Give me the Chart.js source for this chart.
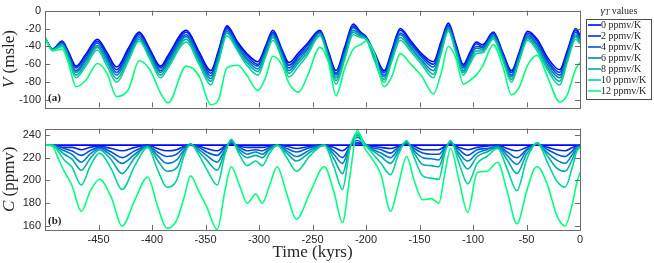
<!DOCTYPE html>
<html>
<head>
<meta charset="utf-8">
<script src="https://cdn.jsdelivr.net/npm/chart.js@4.4.1/dist/chart.umd.min.js"></script>
<style>
  body { margin: 0; background: #fff; }
  #wrap { position: relative; width: 654px; height: 263px; }
  canvas { position: absolute; left: 0; }
</style>
</head>
<body>
<div id="wrap">
  <canvas id="topChart" width="654" height="118" style="top:0"></canvas>
  <canvas id="bottomChart" width="654" height="145" style="top:118px"></canvas>
</div>
<script>
// legend entries (gamma_T values)
const gammaLabels = ['0 ppmv/K', '2 ppmv/K', '4 ppmv/K', '6 ppmv/K', '8 ppmv/K', '10 ppmv/K', '12 ppmv/K'];
const colours = ['#0000ff', '#002bea', '#0055d5', '#0080bf', '#00aaaa', '#00d595', '#00ff80'];

// tick labels
const xTicks = [-450, -400, -350, -300, -250, -200, -150, -100, -50, 0];
const vTicks = [-100, -80, -60, -40, -20, 0];
const cTicks = [160, 180, 200, 220, 240];

// panel (a): sea level V (msle)
const timeV = [-500, -493, -484, -478, -471, -462, -451, -442, -433, -422,
  -412, -402, -392, -385, -368, -356, -345, -338, -330, -320,
  -312, -301, -294, -287, -278, -272, -263, -255, -243, -235,
  -228, -220, -212, -205, -200, -192, -183, -176, -168, -158,
  -148, -137, -130, -123, -116, -109, -103, -97, -91, -81,
  -72, -64, -57, -49, -40, -30, -19, -12, -4, 0];
const vGamma0 = [-30, -43, -34, -46, -62, -49, -32, -47, -63, -42,
  -24, -43, -62, -50, -22, -46, -67, -45, -17, -35,
  -47, -57, -40, -22, -45, -58, -47, -37, -22, -46,
  -67, -41, -15, -24, -29, -47, -67, -45, -20, -34,
  -48, -57, -35, -14, -37, -60, -47, -35, -38, -24,
  -47, -67, -47, -23, -32, -53, -66, -45, -20, -27];
const vGamma2 = [-30, -43, -35, -48, -64, -51, -34, -50, -66, -45,
  -26, -45, -64, -53, -24, -49, -70, -47, -19, -37,
  -49, -60, -42, -24, -47, -61, -50, -39, -23, -48,
  -70, -44, -17, -25, -30, -49, -69, -47, -22, -36,
  -50, -60, -38, -16, -39, -62, -49, -37, -40, -25,
  -49, -69, -49, -25, -34, -56, -69, -47, -22, -29];
const vGamma4 = [-30, -43, -36, -49, -67, -54, -36, -52, -69, -47,
  -28, -47, -67, -55, -27, -51, -73, -50, -21, -39,
  -52, -62, -44, -26, -49, -64, -52, -42, -24, -49,
  -72, -46, -19, -26, -30, -50, -72, -49, -25, -38,
  -52, -63, -40, -17, -41, -64, -52, -40, -41, -27,
  -50, -72, -51, -27, -37, -58, -72, -50, -24, -31];
const vGamma6 = [-30, -44, -37, -51, -69, -56, -39, -55, -72, -50,
  -30, -49, -69, -58, -29, -54, -76, -52, -23, -41,
  -54, -65, -47, -28, -51, -67, -55, -44, -25, -51,
  -75, -49, -22, -27, -31, -52, -74, -52, -27, -41,
  -55, -67, -43, -19, -43, -67, -54, -42, -43, -28,
  -52, -74, -53, -29, -39, -61, -75, -52, -27, -33];
const vGamma8 = [-30, -44, -38, -53, -72, -59, -41, -58, -76, -53,
  -32, -51, -72, -61, -32, -57, -79, -55, -25, -43,
  -57, -68, -49, -30, -53, -70, -58, -47, -27, -53,
  -78, -52, -24, -29, -31, -54, -77, -54, -30, -43,
  -57, -71, -46, -21, -45, -69, -57, -45, -45, -30,
  -54, -77, -55, -31, -42, -64, -79, -55, -29, -35];
const vGamma10 = [-30, -44, -40, -55, -75, -62, -44, -62, -80, -56,
  -34, -54, -75, -64, -35, -60, -83, -58, -28, -45,
  -60, -72, -52, -33, -56, -74, -62, -50, -28, -55,
  -82, -55, -27, -30, -32, -56, -80, -57, -33, -46,
  -60, -75, -49, -23, -47, -72, -60, -48, -47, -32,
  -56, -80, -57, -33, -45, -67, -83, -58, -32, -37];
const vGamma12 = [-30, -45, -43, -59, -85, -78, -59, -70, -96, -88,
  -56, -66, -92, -103, -62, -73, -105, -100, -64, -61,
  -71, -89, -75, -51, -62, -81, -91, -74, -41, -58,
  -95, -65, -43, -38, -34, -48, -85, -74, -48, -60,
  -73, -93, -71, -40, -53, -82, -78, -72, -62, -38,
  -63, -94, -86, -61, -50, -75, -102, -94, -65, -58];

// panel (b): CO2 C (ppmv)
const timeC = [-500, -493, -488, -482, -475, -466, -458, -449, -438, -428,
  -416, -404, -395, -386, -377, -370, -364, -356, -349, -339,
  -332, -326, -318, -311, -303, -297, -290, -283, -274, -265,
  -252, -239, -230, -222, -215, -208, -201, -195, -186, -177,
  -170, -162, -155, -147, -139, -132, -126, -121, -113, -105,
  -96, -87, -77, -68, -59, -50, -43, -40, -30, -22,
  -14, -7, -3, 0];
const cGamma0 = [231, 231, 231, 231, 231, 231, 231, 231, 231, 231,
  231, 231, 231, 231, 231, 231, 231, 231, 231, 231,
  231, 231, 231, 231, 231, 231, 231, 231, 231, 231,
  231, 231, 231, 231, 231, 231, 231, 231, 231, 231,
  231, 231, 231, 231, 231, 231, 231, 231, 231, 231,
  231, 231, 231, 231, 231, 231, 231, 231, 231, 231,
  231, 231, 231, 231];
const cGamma2 = [231, 231, 230, 229, 229, 227, 229, 230, 228, 226,
  229, 231, 228, 226, 227, 230, 231, 230, 228, 226,
  230, 232, 230, 229, 229, 229, 230, 231, 230, 228,
  230, 231, 229, 226, 231, 233, 231, 230, 229, 228,
  230, 232, 230, 227, 227, 227, 230, 232, 229, 227,
  229, 230, 231, 228, 226, 229, 231, 231, 229, 227,
  226, 229, 230, 231];
const cGamma4 = [231, 231, 230, 228, 226, 222, 226, 229, 225, 220,
  226, 230, 225, 221, 223, 229, 231, 229, 225, 222,
  229, 233, 229, 226, 227, 226, 229, 231, 228, 225,
  229, 231, 226, 220, 230, 235, 231, 229, 227, 224,
  229, 233, 228, 224, 223, 223, 229, 233, 227, 222,
  227, 228, 230, 225, 220, 227, 231, 232, 227, 223,
  221, 226, 230, 230];
const cGamma6 = [231, 231, 229, 226, 223, 216, 223, 228, 222, 215,
  223, 230, 222, 215, 218, 227, 232, 227, 222, 216,
  227, 234, 227, 223, 225, 223, 228, 231, 226, 221,
  227, 231, 223, 215, 230, 238, 232, 228, 224, 220,
  227, 233, 226, 220, 219, 218, 228, 233, 224, 217,
  224, 227, 230, 222, 214, 226, 231, 232, 224, 218,
  215, 223, 229, 230];
const cGamma8 = [231, 231, 228, 223, 219, 209, 219, 227, 218, 206,
  220, 230, 218, 208, 211, 225, 232, 225, 218, 209,
  225, 235, 225, 220, 222, 220, 227, 231, 224, 217,
  225, 231, 219, 206, 229, 240, 232, 227, 221, 215,
  225, 234, 224, 214, 213, 212, 227, 234, 221, 210,
  221, 225, 229, 218, 206, 223, 231, 233, 221, 211,
  208, 219, 228, 230];
const cGamma10 = [231, 231, 226, 218, 212, 196, 212, 224, 210, 192,
  213, 229, 210, 194, 200, 222, 232, 222, 210, 196,
  222, 236, 222, 213, 217, 213, 224, 231, 220, 208,
  222, 231, 212, 192, 228, 242, 232, 225, 215, 205,
  222, 235, 220, 204, 202, 201, 225, 235, 215, 197,
  215, 221, 228, 210, 191, 218, 231, 233, 215, 200,
  194, 212, 226, 229];
const cGamma12 = [231, 230, 220, 208, 196, 173, 190, 201, 185, 160,
  183, 203, 178, 158, 165, 185, 204, 190, 177, 157,
  190, 212, 195, 180, 188, 180, 196, 212, 188, 166,
  190, 212, 190, 163, 204, 244, 228, 220, 205, 173,
  195, 221, 200, 183, 184, 180, 208, 228, 200, 172,
  207, 208, 216, 190, 162, 190, 210, 212, 195, 170,
  160, 180, 198, 207];

const vSeries = [vGamma0, vGamma2, vGamma4, vGamma6, vGamma8, vGamma10, vGamma12];
const cSeries = [cGamma0, cGamma2, cGamma4, cGamma6, cGamma8, cGamma10, cGamma12];

const serif = '"Liberation Serif", "DejaVu Serif", serif';
const sans = '"Liberation Sans", Arial, sans-serif';
const frameColour = '#6b6b6b';
const textColour = '#262626';

function toPoints(times, values) {
  return times.map((t, i) => ({ x: t, y: values[i] }));
}

function makeDatasets(times, series) {
  return series.map((vals, i) => ({
    label: gammaLabels[i],
    data: toPoints(times, vals),
    borderColor: colours[i],
    backgroundColor: colours[i],
    borderWidth: 1.6,
    pointRadius: 0,
    cubicInterpolationMode: 'monotone',
    order: 6 - i,
  }));
}

// draws text made of several styled parts, e.g. italic V + " (msle)"
function drawParts(ctx, parts, x, y, align) {
  let total = 0;
  parts.forEach(p => { ctx.font = p.font; total += ctx.measureText(p.text).width; });
  let cx = align === 'center' ? x - total / 2 : x;
  parts.forEach(p => {
    ctx.font = p.font;
    ctx.fillText(p.text, cx, y + (p.dy || 0));
    cx += ctx.measureText(p.text).width;
  });
}

// box round the plot with inward ticks on all four sides
function frameTicks(yTickValues) {
  return {
    id: 'frameTicks',
    afterDatasetsDraw(chart) {
      const { ctx, chartArea: a, scales } = chart;
      ctx.save();
      ctx.strokeStyle = frameColour;
      ctx.lineWidth = 1;
      ctx.strokeRect(Math.round(a.left) + 0.5, Math.round(a.top) + 0.5,
        Math.round(a.right - a.left), Math.round(a.bottom - a.top));
      ctx.beginPath();
      xTicks.forEach(v => {
        const px = Math.round(scales.x.getPixelForValue(v)) + 0.5;
        ctx.moveTo(px, a.bottom); ctx.lineTo(px, a.bottom - 5);
        ctx.moveTo(px, a.top); ctx.lineTo(px, a.top + 5);
      });
      yTickValues.forEach(v => {
        const py = Math.round(scales.y.getPixelForValue(v)) + 0.5;
        ctx.moveTo(a.left, py); ctx.lineTo(a.left + 5, py);
        ctx.moveTo(a.right, py); ctx.lineTo(a.right - 5, py);
      });
      ctx.stroke();
      ctx.restore();
    }
  };
}

function yLabelPlugin(letter, rest, panelTag) {
  return {
    id: 'yLabel',
    afterDraw(chart) {
      const { ctx, chartArea: a } = chart;
      ctx.save();
      ctx.fillStyle = textColour;
      ctx.textBaseline = 'middle';
      ctx.translate(10, (a.top + a.bottom) / 2);
      ctx.rotate(-Math.PI / 2);
      drawParts(ctx, [
        { text: letter, font: 'italic 17px ' + serif },
        { text: rest, font: '17px ' + serif },
      ], 0, 0, 'center');
      ctx.restore();

      ctx.save();
      ctx.fillStyle = textColour;
      ctx.textBaseline = 'middle';
      ctx.font = 'bold 11px ' + serif;
      ctx.fillText(panelTag, a.left + 3, a.bottom - 9);
      ctx.restore();
    }
  };
}

const legendPlugin = {
  id: 'gammaLegend',
  afterDraw(chart) {
    const { ctx } = chart;
    ctx.save();
    ctx.fillStyle = textColour;
    ctx.textBaseline = 'middle';
    drawParts(ctx, [
      { text: '\u03b3', font: 'italic 11px ' + serif },
      { text: 'T', font: 'italic 8px ' + serif, dy: 2 },
      { text: ' values', font: '10px ' + serif },
    ], 619, 11, 'center');
    ctx.strokeStyle = '#4d4d4d';
    ctx.lineWidth = 1;
    ctx.strokeRect(586.5, 19.5, 65, 80);
    gammaLabels.forEach((lab, i) => {
      const y = 25 + i * 11;
      ctx.strokeStyle = colours[i];
      ctx.lineWidth = 1.6;
      ctx.beginPath();
      ctx.moveTo(588, y); ctx.lineTo(601, y);
      ctx.stroke();
      ctx.font = '10px ' + serif;
      ctx.fillText(lab, 601, y);
    });
    ctx.restore();
  }
};

function baseOptions(yMin, yMax, yTickValues, showX) {
  return {
    responsive: false,
    animation: false,
    devicePixelRatio: 1,
    events: [],
    layout: { padding: { top: 5, right: 74, bottom: showX ? 0 : 6, left: 0 } },
    plugins: { legend: { display: false }, tooltip: { enabled: false } },
    scales: {
      x: {
        type: 'linear',
        min: -500,
        max: 0,
        display: showX,
        grid: { display: false, drawTicks: false },
        border: { display: false },
        afterBuildTicks: s => { s.ticks = xTicks.map(v => ({ value: v })); },
        afterFit: s => { s.height = showX ? 33 : 0; },
        ticks: { padding: 3, autoSkip: false, color: textColour, font: { family: sans, size: 11 }, maxRotation: 0 },
        title: { display: false },
      },
      y: {
        type: 'linear',
        min: yMin,
        max: yMax,
        grid: { display: false, drawTicks: false },
        border: { display: false },
        afterBuildTicks: s => { s.ticks = yTickValues.map(v => ({ value: v })); },
        afterFit: s => { s.width = 45; },
        ticks: { padding: 4, autoSkip: false, color: textColour, font: { family: sans, size: 11 } },
      },
    },
  };
}

new Chart(document.getElementById('topChart'), {
  type: 'line',
  data: { datasets: makeDatasets(timeV, vSeries) },
  options: baseOptions(-108, 0, vTicks, false),
  plugins: [frameTicks(vTicks), yLabelPlugin('V', ' (msle)', '(a)'), legendPlugin],
});

const xTitlePlugin = {
  id: 'xTitle',
  afterDraw(chart) {
    const { ctx, chartArea: a } = chart;
    ctx.save();
    ctx.fillStyle = textColour;
    ctx.textAlign = 'center';
    ctx.textBaseline = 'middle';
    ctx.font = '17px ' + serif;
    ctx.fillText('Time (kyrs)', (a.left + a.right) / 2, 135);
    ctx.restore();
  }
};

new Chart(document.getElementById('bottomChart'), {
  type: 'line',
  data: { datasets: makeDatasets(timeC, cSeries) },
  options: baseOptions(156.5, 245.5, cTicks, true),
  plugins: [frameTicks(cTicks), yLabelPlugin('C', ' (ppmv)', '(b)'), xTitlePlugin],
});
</script>
</body>
</html>
